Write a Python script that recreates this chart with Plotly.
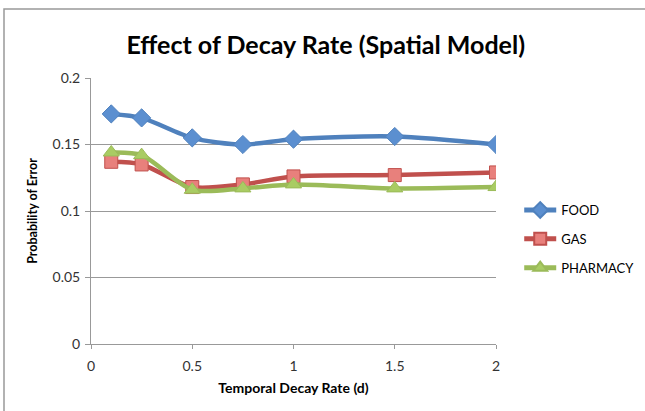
import plotly.graph_objects as go

decay = [0.1, 0.25, 0.5, 0.75, 1, 1.5, 2]
food = [0.173, 0.170, 0.155, 0.150, 0.154, 0.156, 0.150]
gas = [0.137, 0.135, 0.118, 0.120, 0.126, 0.127, 0.129]
pharmacy = [0.144, 0.142, 0.116, 0.117, 0.120, 0.117, 0.118]

series = [
    ("FOOD", food, "#4F81BD", "#5B8FD0", "diamond", 14),
    ("GAS", gas, "#C0504D", "#E8807C", "square", 13),
    ("PHARMACY", pharmacy, "#9BBB59", "#A9CC63", "triangle-up", 14),
]

fig = go.Figure()
for name, vals, lc, mc, sym, sz in series:
    fig.add_trace(go.Scatter(
        x=decay, y=vals, name=name, mode="lines+markers", legendgroup=name,
        line=dict(color=lc, width=4.5, shape="spline", smoothing=0.8),
        marker=dict(symbol=sym, size=sz, color=mc, line=dict(color=lc, width=1)),
    ))

fig.update_layout(
    width=645, height=411,
    margin=dict(l=91, r=149, t=78, b=67),
    paper_bgcolor="white", plot_bgcolor="white",
    font=dict(family="Lato, Open Sans, sans-serif", size=14, color="#333"),
    title=dict(text="<b>Effect of Decay Rate (Spatial Model)</b>", x=0.505, xanchor="center",
               y=0.89, yanchor="middle", font=dict(size=25, color="black")),
    showlegend=True,
    legend=dict(xref="container", yref="container", x=0.805, y=(411 - 239) / 411,
                xanchor="left", yanchor="middle", traceorder="grouped",
                font=dict(size=13, color="black"), tracegroupgap=9,
                itemwidth=32, itemsizing="constant", bgcolor="rgba(0,0,0,0)"),
    xaxis=dict(range=[0, 2], tickvals=[0, 0.5, 1, 1.5, 2], ticktext=["0", "0.5", "1", "1.5", "2"],
               showgrid=False, zeroline=False, showline=True, linecolor="#999", linewidth=1,
               ticks="outside", ticklen=4, tickcolor="#999", automargin=False, ticklabelstandoff=5,
               title=dict(text="<b>Temporal Decay Rate (d)</b>", font=dict(size=14, color="black"), standoff=10)),
    yaxis=dict(range=[0, 0.2], tickvals=[0, 0.05, 0.1, 0.15, 0.2], ticktext=["0", "0.05", "0.1", "0.15", "0.2"],
               showgrid=True, gridcolor="#999", gridwidth=1, zeroline=False,
               showline=True, linecolor="#999", linewidth=1,
               ticks="outside", ticklen=5, tickcolor="#999", automargin=False, ticklabelstandoff=2,
               title=dict(text="<b>Probability of Error</b>", font=dict(size=12.5, color="black"), standoff=12)),
)

# outer chart frame
fig.add_shape(type="rect", xref="paper", yref="paper",
              x0=(4 - 91) / 405, x1=(700 - 91) / 405,
              y0=(344 - 450) / 266, y1=(344 - 9) / 266,
              line=dict(color="#999", width=1.5), fillcolor="rgba(0,0,0,0)", layer="below")

fig.write_html("out.html", config={"displayModeBar": False},
               post_script="document.body.style.margin='0';")
